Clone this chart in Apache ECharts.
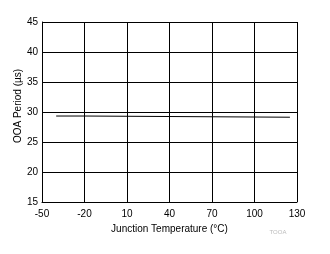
<!DOCTYPE html>
<html><head><meta charset="utf-8">
<script src="https://cdn.jsdelivr.net/npm/echarts@6/dist/echarts.min.js"></script>
<style>html,body{margin:0;padding:0;background:#fff}#c{width:330px;height:254px}</style>
</head><body><div id="c"></div>
<script>
const temps = [-40, -20, -20, 125];
const periods = [29.33, 29.33, 29.13, 29.13];
const xTicks = [-50, -20, 10, 40, 70, 100, 130];
const yTicks = [15, 20, 25, 30, 35, 40, 45];
const xTitle = 'Junction Temperature (°C)';
const yTitle = 'OOA Period (µs)';
const tag = 'TOOA';

const chart = echarts.init(document.getElementById('c'), null, {renderer: 'canvas'});
const font = '"Liberation Sans", Arial, sans-serif';
chart.setOption({
  animation: false,
  grid: {left: 42, right: 33, top: 22, bottom: 52, containLabel: false},
  xAxis: {
    type: 'value', min: xTicks[0], max: xTicks[xTicks.length-1], interval: 30,
    axisLine: {show: true, onZero: false, lineStyle: {color: '#000', width: 1}},
    axisTick: {show: false},
    splitLine: {show: true, lineStyle: {color: '#000', width: 1}},
    axisLabel: {color: '#000', fontSize: 10, fontFamily: font, margin: 7},
    name: xTitle, nameLocation: 'middle', nameGap: 21,
    nameTextStyle: {color: '#000', fontSize: 10, fontFamily: font}
  },
  yAxis: {
    type: 'value', min: yTicks[0], max: yTicks[yTicks.length-1], interval: 5,
    axisLine: {show: true, onZero: false, lineStyle: {color: '#000', width: 1}},
    axisTick: {show: false},
    splitLine: {show: true, lineStyle: {color: '#000', width: 1}},
    axisLabel: {color: '#000', fontSize: 10, fontFamily: font, margin: 4}
  },
  graphic: [
    {type: 'text', x: 18, y: 106, rotation: Math.PI/2, style: {text: yTitle, fill: '#000', font: '10px ' + font, textAlign: 'center', textVerticalAlign: 'middle'}},
    {type: 'text', x: 278, y: 232, style: {text: tag, fill: '#bbb', font: '6px ' + font, textAlign: 'center', textVerticalAlign: 'middle'}}
  ],
  series: [{
    type: 'line', data: temps.map((t, i) => [t, periods[i]]),
    showSymbol: false, lineStyle: {color: '#000', width: 1}
  }]
});
</script></body></html>
